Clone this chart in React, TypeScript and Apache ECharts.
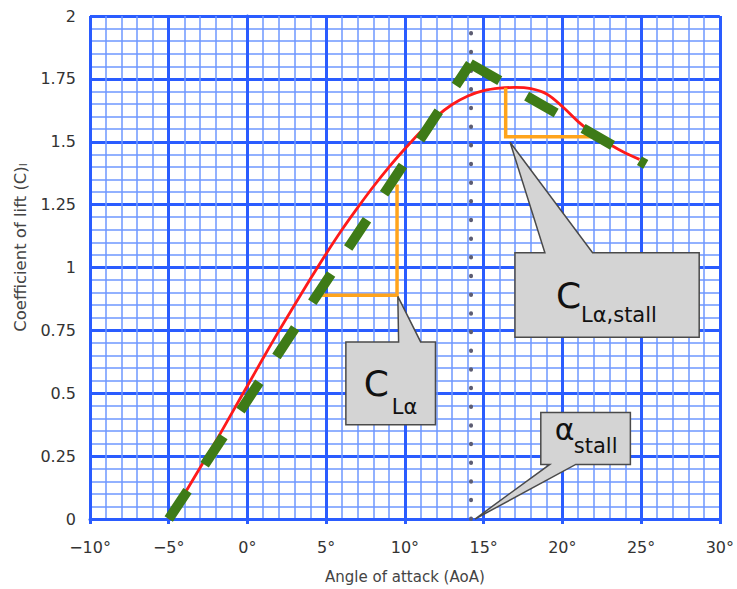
import React, { useEffect, useRef } from "react";
import * as echarts from "echarts";

// ---- data ----
const liftAoA = [-5, -4, -3, -2, -1, 0, 1, 2, 3, 4, 5, 6, 7, 8, 9, 10, 11, 12, 13, 14, 15, 16, 17, 18, 19, 20, 21, 22, 23, 24, 24.9];
const liftCl = [0, 0.1, 0.205, 0.31, 0.42, 0.53, 0.64, 0.748, 0.852, 0.955, 1.055, 1.15, 1.238, 1.322, 1.4, 1.472, 1.54, 1.6, 1.648, 1.682, 1.703, 1.713, 1.716, 1.711, 1.69, 1.64, 1.58, 1.53, 1.49, 1.455, 1.43];

const idealRise = [[-5, 0], [14.15, 1.81]];
const idealFall = [[14.15, 1.81], [25.3, 1.41]];
const alphaStall = 14.2;
const slopeTriangle = [[4.4, 0.89], [9.5, 0.89], [9.5, 1.33]];
const stallTriangle = [[16.4, 1.715], [16.4, 1.52], [22.1, 1.52]];

// callouts: [left, top, right, bottom, apexX, apexY, baseX1, baseX2, side(0 top / 1 bottom)]
const callouts = [
  [6.25, 0.704, 11.94, 0.375, 9.55, 0.885, 9.6, 11.0, 0],
  [16.99, 1.059, 28.69, 0.723, 16.68, 1.498, 18.89, 21.92, 0],
  [18.63, 0.423, 24.32, 0.217, 14.45, 0.0, 19.2, 20.85, 1],
];
const calloutMain = ["C", "C", "α"];
const calloutSub = ["Lα", "Lα,stall", "stall"];

// text placement (px offsets from box top-left) and sizes
const textLayout = [
  { mx: 18, my: 42, ms: 36, sx: 46, sy: 65, ss: 21 },
  { mx: 41, my: 43, ms: 36, sx: 66, sy: 62, ss: 21 },
  { mx: 14, my: 17, ms: 30, sx: 33, sy: 33, ss: 21 },
];

const xMin = -10, xMax = 30, xStep = 5;
const yMin = 0, yMax = 2, yStep = 0.25;

const MAJOR = "#2a5cff";
const MINOR = "#6e97ff";

function fmtDeg(v: number) {
  return (v < 0 ? "\u2212" + Math.abs(v) : String(v)) + "°";
}

export default function App() {
  const ref = useRef<HTMLDivElement>(null);
  useEffect(() => {
    const chart = echarts.init(ref.current!, null, { renderer: "svg" });
    const option: any = {
      animation: false,
      grid: { left: 90, right: 14, top: 16, bottom: 67, containLabel: false },
      xAxis: {
        type: "value",
        min: xMin,
        max: xMax,
        interval: xStep,
        name: "Angle of attack (AoA)",
        nameLocation: "middle",
        nameGap: 50,
        nameTextStyle: { fontSize: 15, color: "#444", fontFamily: "DejaVu Sans" },
        axisLine: { show: true, onZero: false, lineStyle: { color: MAJOR, width: 3 } },
        axisTick: { show: true, length: 5, lineStyle: { color: MAJOR, width: 3 } },
        axisLabel: { formatter: fmtDeg, color: "#333", fontSize: 16, fontFamily: "DejaVu Sans", margin: 20 },
        splitLine: { show: true, lineStyle: { color: MAJOR, width: 3 } },
        minorTick: { show: false, splitNumber: 5 },
        minorSplitLine: { show: true, lineStyle: { color: MINOR, width: 1.5 } },
      },
      yAxis: {
        type: "value",
        min: yMin,
        max: yMax,
        interval: yStep,
        name: "Coefficient of lift (C){s|l}",
        nameLocation: "middle",
        nameGap: 59,
        nameTextStyle: {
          fontSize: 16.5,
          color: "#444",
          fontFamily: "DejaVu Sans",
          padding: [0, 0, 0, 40],
          rich: { s: { fontSize: 11, color: "#444", fontFamily: "DejaVu Sans", verticalAlign: "bottom" } },
        },
        axisLine: { show: true, lineStyle: { color: MAJOR, width: 3 } },
        axisTick: { show: true, length: 5, lineStyle: { color: MAJOR, width: 3 } },
        axisLabel: { color: "#333", fontSize: 16, fontFamily: "DejaVu Sans", margin: 14 },
        splitLine: { show: true, lineStyle: { color: MAJOR, width: 3 } },
        minorTick: { show: false, splitNumber: 5 },
        minorSplitLine: { show: true, lineStyle: { color: MINOR, width: 1.5 } },
      },
      series: [
        {
          type: "line",
          data: [[alphaStall, yMin], [alphaStall, yMax]],
          symbol: "none",
          lineStyle: { color: "#5c5c72", width: 4, type: [0.5, 18.17], cap: "round" },
          z: 2,
        },
        {
          type: "line",
          data: liftAoA.map((x, i) => [x, liftCl[i]]),
          symbol: "none",
          smooth: 0.35,
          lineStyle: { color: "#ff1a1a", width: 2.8 },
          z: 3,
        },
        {
          type: "line",
          data: slopeTriangle,
          symbol: "none",
          lineStyle: { color: "#ffa41c", width: 3.5, join: "miter" },
          z: 4,
        },
        {
          type: "line",
          data: stallTriangle,
          symbol: "none",
          lineStyle: { color: "#ffa41c", width: 3.5, join: "miter" },
          z: 4,
        },
        {
          type: "line",
          data: idealRise,
          symbol: "none",
          lineStyle: { color: "#3e7b17", width: 10, type: [34, 31], cap: "butt" },
          z: 5,
        },
        {
          type: "line",
          data: idealFall,
          symbol: "none",
          lineStyle: { color: "#3e7b17", width: 10, type: [34, 31], cap: "butt" },
          z: 5,
        },
        {
          type: "custom",
          coordinateSystem: "cartesian2d",
          clip: false,
          z: 6,
          encode: { x: 0, y: 1 },
          data: callouts,
          renderItem: (params: any, api: any) => {
            const i = params.dataIndex;
            const tl = api.coord([api.value(0), api.value(1)]);
            const br = api.coord([api.value(2), api.value(3)]);
            const apex = api.coord([api.value(4), api.value(5)]);
            const b1 = api.coord([api.value(6), api.value(1)])[0];
            const b2 = api.coord([api.value(7), api.value(1)])[0];
            const side = api.value(8);
            let pts: number[][];
            if (side === 0) {
              pts = [[tl[0], tl[1]], [b1, tl[1]], apex, [b2, tl[1]], [br[0], tl[1]], [br[0], br[1]], [tl[0], br[1]]];
            } else {
              pts = [[tl[0], tl[1]], [br[0], tl[1]], [br[0], br[1]], [b2, br[1]], apex, [b1, br[1]], [tl[0], br[1]]];
            }
            const L = textLayout[i];
            return {
              type: "group",
              children: [
                {
                  type: "polygon",
                  shape: { points: pts },
                  style: { fill: "#d4d4d4", stroke: "#4a4a4a", lineWidth: 1.5 },
                },
                {
                  type: "text",
                  style: {
                    text: calloutMain[i],
                    x: tl[0] + L.mx,
                    y: tl[1] + L.my,
                    fill: "#111",
                    fontSize: L.ms,
                    fontFamily: "DejaVu Sans",
                    align: "left",
                    verticalAlign: "middle",
                  },
                },
                {
                  type: "text",
                  style: {
                    text: calloutSub[i],
                    x: tl[0] + L.sx,
                    y: tl[1] + L.sy,
                    fill: "#111",
                    fontSize: L.ss,
                    fontFamily: "DejaVu Sans",
                    align: "left",
                    verticalAlign: "middle",
                  },
                },
              ],
            };
          },
        },
      ],
    };
    chart.setOption(option);
    return () => chart.dispose();
  }, []);
  return <div ref={ref} style={{ position: "fixed", left: 0, top: 0, width: 737, height: 589, background: "#fff" }} />;
}
